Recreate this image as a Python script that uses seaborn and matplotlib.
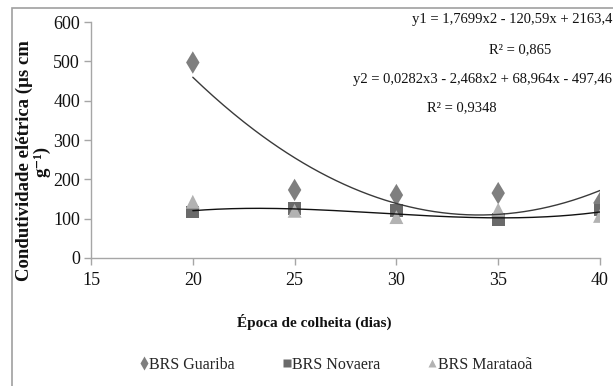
import numpy as np
import pandas as pd
import matplotlib
matplotlib.use("Agg")
import matplotlib.pyplot as plt
import seaborn as sns
from matplotlib.lines import Line2D
from matplotlib.patches import Rectangle

# ---- data ----
dias = [20, 25, 30, 35, 40]
guariba = [497, 173, 160, 165, 140]
novaera = [117, 125, 120, 97, 122]
marataoa = [143, 120, 104, 123, 107]
cultivares = ["BRS Guariba", "BRS Novaera", "BRS Marataoã"]
coef_y1 = [1.7699, -120.59, 2163.4]
coef_y2 = [0.0282, -2.468, 68.964, -497.46]
eq1 = "y1 = 1,7699x2 - 120,59x + 2163,4"
r1 = "R² = 0,865"
eq2 = "y2 = 0,0282x3 - 2,468x2 + 68,964x - 497,46"
r2 = "R² = 0,9348"
xticks = [15, 20, 25, 30, 35, 40]
yticks = [0, 100, 200, 300, 400, 500, 600]

df = pd.DataFrame({
    "dias": dias * 3,
    "valor": guariba + novaera + marataoa,
    "cultivar": [cultivares[0]] * 5 + [cultivares[1]] * 5 + [cultivares[2]] * 5,
})

sns.set_style("white")
plt.rcParams["font.family"] = ["Liberation Serif", "DejaVu Serif"]

W, H = 613, 386
fig = plt.figure(figsize=(W / 100, H / 100), dpi=100)
ax = fig.add_axes([91 / W, 1 - 258 / H, (600 - 91) / W, (258 - 22) / H])
ax.patch.set_alpha(0)

palette = {cultivares[0]: "#7f7f7f", cultivares[1]: "#6a6a6a", cultivares[2]: "#b2b2b2"}
markers = {cultivares[0]: "d", cultivares[1]: "s", cultivares[2]: "^"}
sizes = {cultivares[0]: 130, cultivares[1]: 85, cultivares[2]: 100}

for c in cultivares:
    sub = df[df["cultivar"] == c]
    sns.scatterplot(data=sub, x="dias", y="valor", color=palette[c], marker=markers[c],
                    s=sizes[c], edgecolor="none", ax=ax, legend=False, zorder=3)

xs = np.linspace(20, 40, 200)
curve = pd.DataFrame({"x": xs, "y1": np.polyval(coef_y1, xs), "y2": np.polyval(coef_y2, xs)})
sns.lineplot(data=curve, x="x", y="y1", color="#3a3a3a", lw=1.0, ax=ax, zorder=4)
sns.lineplot(data=curve, x="x", y="y2", color="#111111", lw=1.0, ax=ax, zorder=4)

ax.set_xlim(15, 40)
ax.set_ylim(0, 600)
ax.set_xticks(xticks)
ax.set_yticks(yticks)
ax.set_xlabel("")
ax.set_ylabel("")
for s in ["top", "right"]:
    ax.spines[s].set_visible(False)
for s in ["left", "bottom"]:
    ax.spines[s].set_color("#a6a6a6")
    ax.spines[s].set_linewidth(1.0)
ax.tick_params(axis="both", direction="out", length=5, width=1, color="#a6a6a6",
               labelsize=13, labelcolor="#111111", bottom=True, left=True)
ax.tick_params(axis="x", pad=5)
ax.tick_params(axis="y", pad=3)

# equations
fig.text(1 - 1 / W, 1 - 20 / H, eq1, ha="right", va="center", fontsize=10.5, color="#111111")
fig.text(520 / W, 1 - 50 / H, r1, ha="center", va="center", fontsize=10.5, color="#111111")
fig.text(1 - 1 / W, 1 - 80 / H, eq2, ha="right", va="center", fontsize=10.5, color="#111111")
fig.text(462 / W, 1 - 108 / H, r2, ha="center", va="center", fontsize=10.5, color="#111111")

# axis labels
fig.text(33 / W, 1 - 161 / H, "Condutividade elétrica (µs cm\ng⁻¹)", rotation=90,
         ha="center", va="center", fontsize=13.5, fontweight="bold", multialignment="center",
         linespacing=1.0, color="#111111")
fig.text(314 / W, 1 - 322 / H, "Época de colheita (dias)", ha="center", va="center",
         fontsize=11, fontweight="bold", color="#111111")

# legend
handles = [Line2D([], [], ls="none", marker=markers[c], color=palette[c],
                  markersize=6 if c != cultivares[0] else 7, markeredgecolor="none") for c in cultivares]
fig.legend(handles, cultivares, loc="center", bbox_to_anchor=(336 / W, 1 - 365 / H), ncol=3,
           frameon=False, fontsize=11.5, handlelength=0.5, handletextpad=0.1, columnspacing=3.0)

# outer border
fig.patches.append(Rectangle((12 / W, -0.01), 1.0, 1 - 8 / H + 0.01, transform=fig.transFigure,
                             fill=False, edgecolor="#a0a0a0", lw=1.2))

fig.savefig("out.png", dpi=100)
